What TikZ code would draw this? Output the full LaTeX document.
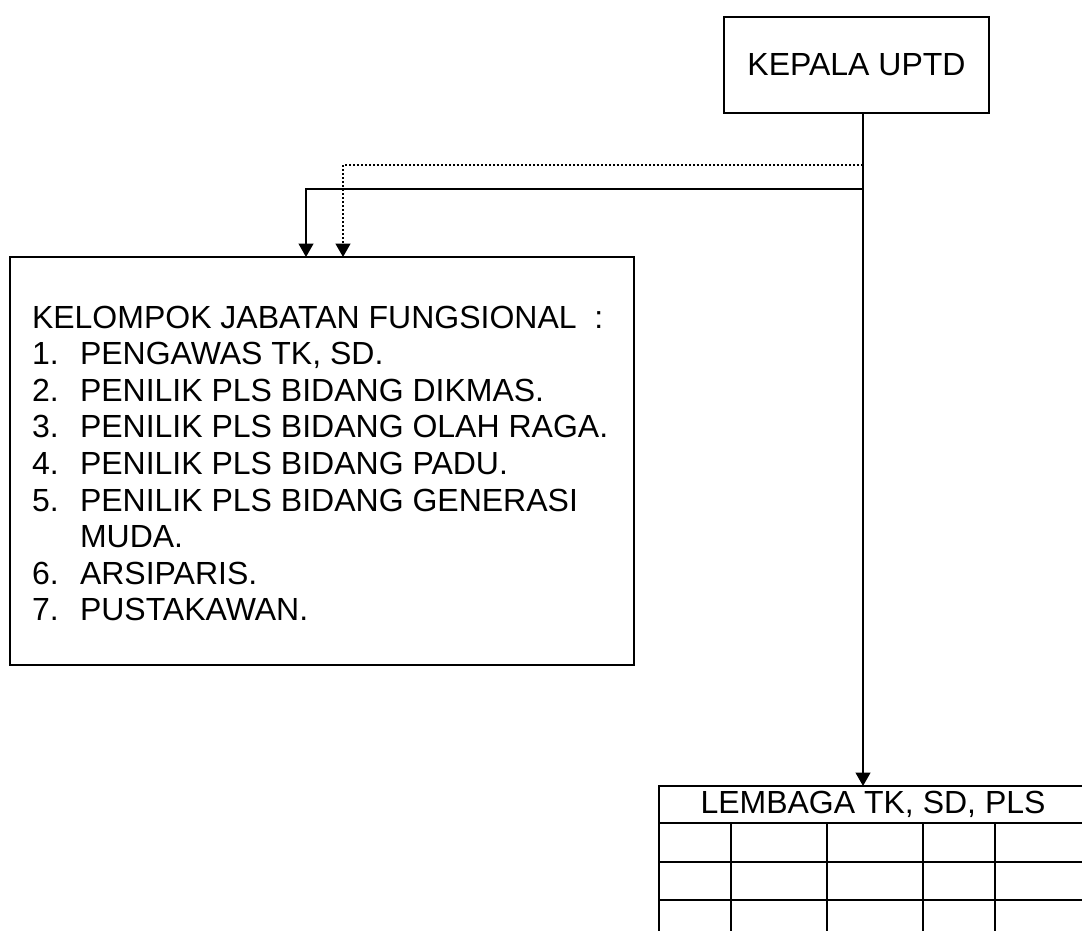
\documentclass[tikz,border=0pt]{standalone}
\usepackage{fontspec}
\setmainfont{Liberation Sans}
\usetikzlibrary{arrows.meta}

\newcommand\nomor[1]{\makebox[36pt][l]{#1}}

\tikzset{
  kotak/.style={draw, line width=1.4pt, inner sep=0pt},
  garis/.style={line width=1.4pt},
  panah/.style={line width=1.4pt, -{Triangle[width=11pt,length=10pt]}},
  titik/.style={line width=1.5pt, dash pattern=on 1.5pt off 1.5pt, -{Triangle[width=11pt,length=10pt]}},
}

\begin{document}
\begin{tikzpicture}[x=0.75pt,y=-0.75pt,every node/.style={font=\fontsize{24}{27.4}\selectfont, outer sep=0pt}]
\clip (0,0) rectangle (1082,931);
\node[kotak, minimum width=198.75pt, minimum height=72pt] (kepala) at (856.5,65) {KEPALA UPTD};
\node[kotak, minimum width=468pt, minimum height=306pt] (fungsional) at (322,461) {};
\node[anchor=north west, align=left, inner sep=0pt] (daftar) at (32,306) {KELOMPOK JABATAN FUNGSIONAL\ \ :\\
\nomor{1.}PENGAWAS TK, SD.\\
\nomor{2.}PENILIK PLS BIDANG DIKMAS.\\
\nomor{3.}PENILIK PLS BIDANG OLAH RAGA.\\
\nomor{4.}PENILIK PLS BIDANG PADU.\\
\nomor{5.}PENILIK PLS BIDANG GENERASI\\
\nomor{}MUDA.\\
\nomor{6.}ARSIPARIS.\\
\nomor{7.}PUSTAKAWAN.};
\node[inner sep=0pt, minimum height=27.75pt] (lembaga) at (873,804.5) {LEMBAGA TK, SD, PLS};
% tabel lembaga
\draw[garis] (659,935) -- (659,786) -- (1090,786);
\foreach \y in {823,862,900}
  \draw[garis] (659,\y) -- (1090,\y);
\foreach \x in {731,827,923,995}
  \draw[garis] (\x,823) -- (\x,935);
% garis komando
\coordinate (pusat) at (863,113);
\coordinate (cabang1) at (863,165);
\coordinate (cabang2) at (863,189);
\draw[panah] (pusat) -- (pusat |- lembaga.north);
\draw[titik] (cabang1) -| ([xshift=15.75pt]fungsional.north);
\draw[panah] (cabang2) -| ([xshift=-12pt]fungsional.north);
\end{tikzpicture}
\end{document}
